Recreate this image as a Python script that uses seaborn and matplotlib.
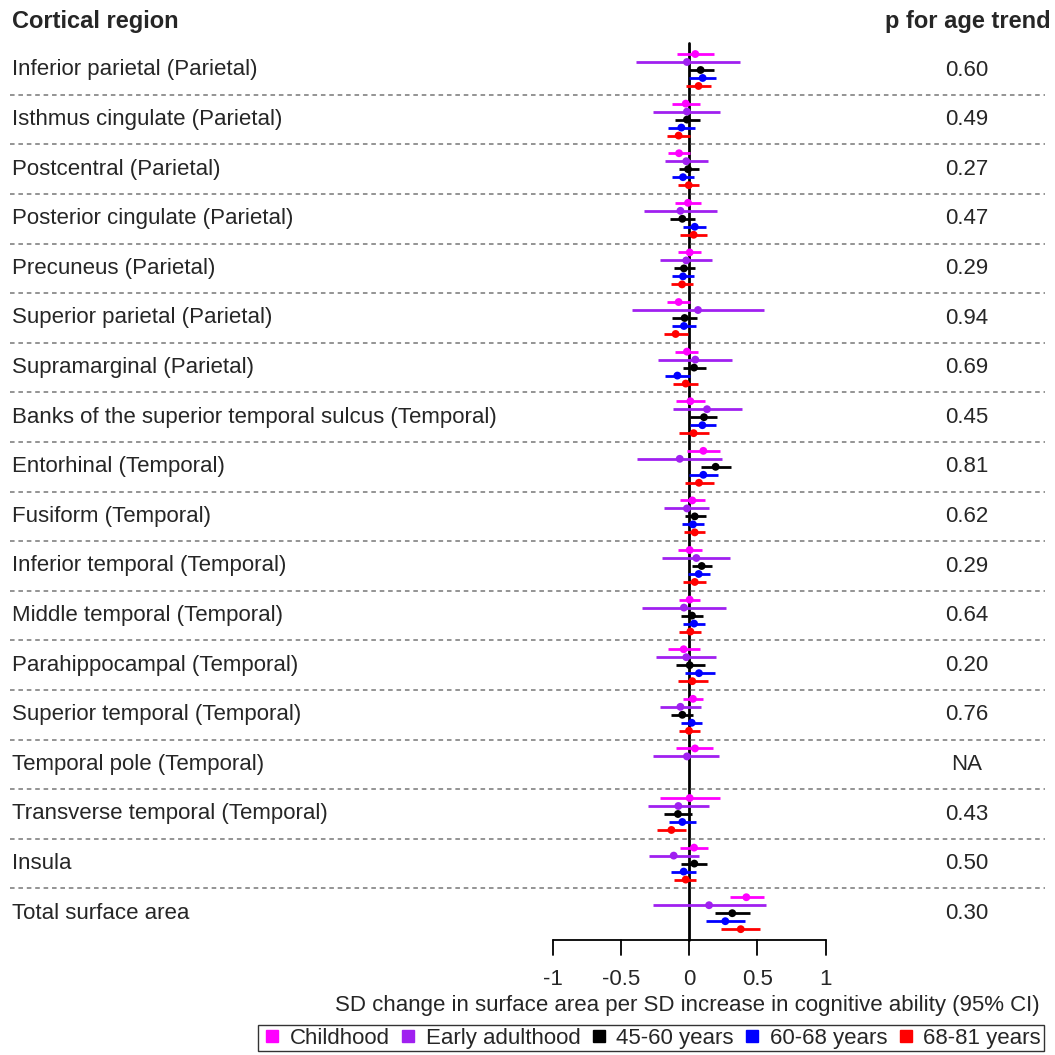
import numpy as np
import pandas as pd
import matplotlib
matplotlib.use("Agg")
import matplotlib.pyplot as plt
from matplotlib.lines import Line2D
import seaborn as sns

# Data
regions = ['Inferior parietal (Parietal)', 'Isthmus cingulate (Parietal)', 'Postcentral (Parietal)',
           'Posterior cingulate (Parietal)', 'Precuneus (Parietal)', 'Superior parietal (Parietal)',
           'Supramarginal (Parietal)', 'Banks of the superior temporal sulcus (Temporal)',
           'Entorhinal (Temporal)', 'Fusiform (Temporal)', 'Inferior temporal (Temporal)',
           'Middle temporal (Temporal)', 'Parahippocampal (Temporal)', 'Superior temporal (Temporal)',
           'Temporal pole (Temporal)', 'Transverse temporal (Temporal)', 'Insula', 'Total surface area']
p_trend = ['0.60', '0.49', '0.27', '0.47', '0.29', '0.94', '0.69', '0.45', '0.81',
           '0.62', '0.29', '0.64', '0.20', '0.76', 'NA', '0.43', '0.50', '0.30']

groups = ['Childhood', 'Early adulthood', '45-60 years', '60-68 years', '68-81 years']
colors = ['#FF00FF', '#A020F0', '#000000', '#0000FF', '#FF0000']

child_est = [0.046, -0.024, -0.073, -0.007, 0.005, -0.076, -0.015, 0.010, 0.105, 0.024, 0.005, 0.005, -0.039, 0.029, 0.044, 0.005, 0.037, 0.420]
child_lo = [-0.088, -0.125, -0.154, -0.105, -0.080, -0.159, -0.103, -0.093, -0.015, -0.063, -0.083, -0.073, -0.154, -0.044, -0.093, -0.215, -0.063, 0.298]
child_hi = [0.180, 0.078, 0.010, 0.090, 0.090, 0.005, 0.068, 0.117, 0.225, 0.115, 0.093, 0.083, 0.078, 0.103, 0.178, 0.225, 0.142, 0.549]

early_est = [-0.015, -0.015, -0.020, -0.063, -0.020, 0.066, 0.046, 0.132, -0.068, -0.015, 0.054, -0.037, -0.020, -0.063, -0.015, -0.078, -0.112, 0.147]
early_lo = [-0.386, -0.264, -0.176, -0.330, -0.210, -0.415, -0.225, -0.117, -0.381, -0.183, -0.195, -0.344, -0.239, -0.210, -0.264, -0.300, -0.293, -0.264]
early_hi = [0.376, 0.225, 0.139, 0.205, 0.166, 0.550, 0.317, 0.386, 0.239, 0.146, 0.303, 0.273, 0.195, 0.085, 0.220, 0.146, 0.071, 0.562]

mid_est = [0.085, -0.015, -0.007, -0.049, -0.037, -0.032, 0.037, 0.110, 0.195, 0.042, 0.093, 0.022, 0.005, -0.049, np.nan, -0.081, 0.039, 0.317]
mid_lo = [0.000, -0.100, -0.073, -0.142, -0.112, -0.125, -0.044, 0.005, 0.085, -0.032, 0.022, -0.061, -0.098, -0.129, np.nan, -0.183, -0.056, 0.188]
mid_hi = [0.180, 0.078, 0.070, 0.042, 0.042, 0.059, 0.122, 0.205, 0.310, 0.122, 0.168, 0.103, 0.115, 0.029, np.nan, 0.020, 0.132, 0.449]

late_est = [0.100, -0.056, -0.044, 0.042, -0.044, -0.037, -0.085, 0.098, 0.105, 0.029, 0.071, 0.037, 0.073, 0.020, np.nan, -0.049, -0.039, 0.266]
late_lo = [0.000, -0.154, -0.127, -0.044, -0.122, -0.122, -0.176, 0.005, -0.002, -0.049, -0.007, -0.044, -0.032, -0.056, np.nan, -0.146, -0.129, 0.127]
late_hi = [0.200, 0.042, 0.037, 0.127, 0.034, 0.049, 0.005, 0.195, 0.215, 0.110, 0.156, 0.115, 0.188, 0.098, np.nan, 0.054, 0.049, 0.413]

old_est = [0.070, -0.076, -0.002, 0.034, -0.051, -0.098, -0.024, 0.034, 0.073, 0.042, 0.042, 0.010, 0.024, 0.000, np.nan, -0.129, -0.024, 0.379]
old_lo = [-0.024, -0.161, -0.078, -0.068, -0.129, -0.186, -0.117, -0.076, -0.029, -0.034, -0.044, -0.073, -0.078, -0.076, np.nan, -0.234, -0.107, 0.237]
old_hi = [0.164, 0.010, 0.073, 0.132, 0.029, -0.007, 0.068, 0.144, 0.186, 0.117, 0.127, 0.090, 0.139, 0.078, np.nan, -0.024, 0.054, 0.518]

xticks = [-1, -0.5, 0, 0.5, 1]
xtick_labels = ['-1', '-0.5', '0', '0.5', '1']

# long format table
series = [(child_est, child_lo, child_hi), (early_est, early_lo, early_hi),
          (mid_est, mid_lo, mid_hi), (late_est, late_lo, late_hi), (old_est, old_lo, old_hi)]
rows = []
for k, (g, (est, lo, hi)) in enumerate(zip(groups, series)):
    for i in range(len(regions)):
        rows.append({'group': g, 'row': i, 'ypos': i + (k - 2) * 0.161,
                     'est': est[i], 'lo': lo[i], 'hi': hi[i]})
df = pd.DataFrame(rows).dropna()

sns.set_style("white")
plt.rcParams['font.family'] = ['Liberation Sans', 'DejaVu Sans']
FS = 16

fig = plt.figure(figsize=(10.55, 10.55), dpi=100)
ax = fig.add_axes([0, 0, 1, 1])
ax.set_axis_off()

# one data unit = 136.5 px, zero at x=689 px; one row = 49.6 px, first row at y=70 px
ax.set_xlim(-689 / 136.5, (1055 - 689) / 136.5)
ax.set_ylim((1055 - 70) / 49.6, -70 / 49.6)

n = len(regions)
xl, xr = ax.get_xlim()

# dashed separators
for i in range(n - 1):
    ax.plot([xl + 0.07, xr - 0.07], [i + 0.5, i + 0.5], ls=(0, (3, 2.5)), color='#777777', lw=1.1)

# zero line
ax.plot([0, 0], [-0.54, n - 0.46], color='black', lw=2, zorder=1)

# confidence intervals
pal = dict(zip(groups, colors))
for g in groups:
    sub = df[df['group'] == g]
    ax.hlines(sub['ypos'], sub['lo'], sub['hi'], colors=pal[g], lw=2, zorder=2)

sns.scatterplot(data=df, x='est', y='ypos', hue='group', palette=pal, hue_order=groups,
                s=32, edgecolor='none', legend=False, ax=ax, zorder=3)

# row labels and p values
for i, (r, p) in enumerate(zip(regions, p_trend)):
    ax.text(xl + 0.09, i, r, fontsize=FS, va='center', ha='left')
    ax.text(2.037, i, p, fontsize=FS, va='center', ha='center')

ax.text(xl + 0.09, -0.98, 'Cortical region', fontsize=FS + 1, fontweight='bold', va='center', ha='left')
ax.text(xr - 0.03, -0.98, 'p for age trend', fontsize=FS + 1, fontweight='bold', va='center', ha='right')

# x axis
yax = n - 0.46
ax.plot([xticks[0], xticks[-1]], [yax, yax], color='black', lw=1.3)
for t, lab in zip(xticks, xtick_labels):
    ax.plot([t, t], [yax, yax + 0.3], color='black', lw=1.3)
    ax.text(t, yax + 0.8, lab, fontsize=FS, ha='center', va='center')
ax.text(2.57, yax + 1.32, 'SD change in surface area per SD increase in cognitive ability (95% CI)',
        fontsize=FS, ha='right', va='center')

# legend
handles = [Line2D([], [], marker='s', ls='none', color=c, markersize=9) for c in colors]
leg = fig.legend(handles, groups, loc='center', bbox_to_anchor=(0.617, 0.016), ncol=5,
                 fontsize=FS, frameon=True, fancybox=False, edgecolor='black',
                 handletextpad=0.3, columnspacing=0.32, handlelength=1.0, borderpad=0.12,
                 borderaxespad=0)
leg.get_frame().set_linewidth(1.0)

fig.savefig('out.png', dpi=100)
